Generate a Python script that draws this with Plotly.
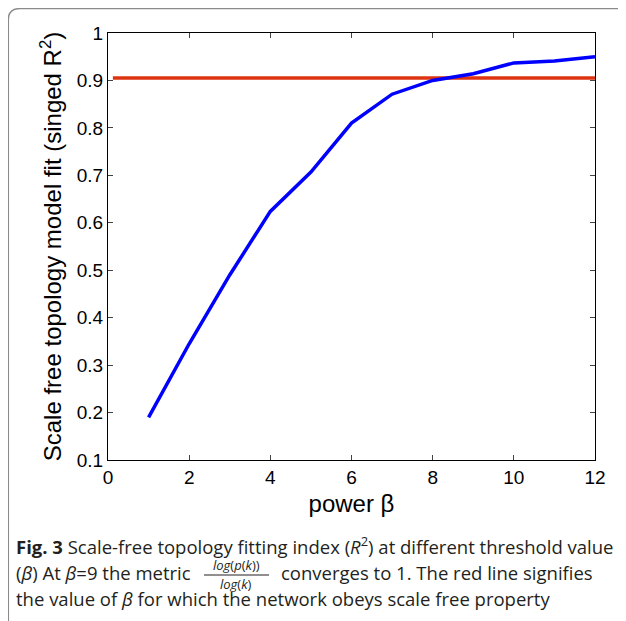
import plotly.graph_objects as go

# soft threshold power vs signed R^2 of scale-free fit
power = [1, 2, 3, 4, 5, 6, 7, 8, 9, 10, 11, 12]
r2 = [0.19, 0.345, 0.49, 0.624, 0.707, 0.81, 0.871, 0.90, 0.914, 0.937, 0.941, 0.95]

# red cutoff line
cut_x = [0.12, 12]
cut_y = [0.905, 0.905]

# page body has an 8px margin, so the figure is shifted by OFF
OFF = 8
W, H = 626 - OFF, 621 - OFF
L, T = 108 - OFF, 33 - OFF
PW, PH = 487, 427
R, B = W - L - PW, H - T - PH


def px(x):
    return (x - OFF - L) / PW


def py(y):
    return (H - B - (y - OFF)) / PH


fig = go.Figure()
fig.add_trace(go.Scatter(x=cut_x, y=cut_y, mode='lines',
                         line=dict(color='#dd3311', width=3.5), showlegend=False))
fig.add_trace(go.Scatter(x=power, y=r2, mode='lines',
                         line=dict(color='#0000ff', width=3.5), showlegend=False))

axis_font = dict(family='Liberation Sans, Arial', size=19, color='black')
fig.update_xaxes(range=[0, 12], tickvals=[0, 2, 4, 6, 8, 10, 12], ticks='inside', ticklen=5,
                 showline=True, linecolor='black', linewidth=1, mirror='ticks',
                 showgrid=False, zeroline=False, tickfont=axis_font,
                 title=dict(text='power β', font=dict(family='Liberation Sans, Arial', size=24, color='black'),
                            standoff=8))
fig.update_yaxes(range=[0.1, 1], tickvals=[0.1, 0.2, 0.3, 0.4, 0.5, 0.6, 0.7, 0.8, 0.9, 1],
                 ticktext=['0.1', '0.2', '0.3', '0.4', '0.5', '0.6', '0.7', '0.8', '0.9', '1'],
                 ticks='inside', ticklen=5,
                 showline=True, linecolor='black', linewidth=1, mirror='ticks',
                 showgrid=False, zeroline=False, tickfont=axis_font,
                 title=dict(text='Scale free topology model fit (singed R<sup>2</sup>)',
                            font=dict(family='Liberation Sans, Arial', size=24, color='black'), standoff=8))

cap = dict(family='Open Sans, Noto Sans', size=18.5, color='#231f20')
notes = [
    dict(x=px(14), y=py(545), text='<b>Fig. 3</b> Scale-free topology fitting index (<i>R</i><sup>2</sup>) at different threshold value'),
    dict(x=px(14), y=py(572), text='(<i>β</i>) At <i>β</i>=9 the metric'),
    dict(x=px(279), y=py(572), text='converges to 1. The red line signifies'),
    dict(x=px(14), y=py(598), text='the value of <i>β</i> for which the network obeys scale free property'),
]
annotations = [dict(xref='paper', yref='paper', xanchor='left', yanchor='middle',
                    showarrow=False, font=cap, **n) for n in notes]
small = dict(family='Open Sans, Noto Sans', size=13, color='#231f20')
annotations.append(dict(xref='paper', yref='paper', x=px(236), y=py(565), text='<i>log</i>(<i>p</i>(<i>k</i>))',
                        showarrow=False, font=small, xanchor='center', yanchor='middle'))
annotations.append(dict(xref='paper', yref='paper', x=px(236), y=py(584), text='<i>log</i>(<i>k</i>)',
                        showarrow=False, font=small, xanchor='center', yanchor='middle'))

shapes = [
    dict(type='line', xref='paper', yref='paper', x0=px(204), x1=px(269), y0=py(575), y1=py(575),
         line=dict(color='#231f20', width=1)),
    dict(type='path', xref='paper', yref='paper',
         path='M {a},{b} L {a},{c} Q {a},{d} {e},{d} L {f},{d}'.format(
             a=px(8.3), b=py(660), c=py(20), d=py(8.6), e=px(20), f=px(660)),
         line=dict(color='#8a8a8a', width=1.5)),
]

fig.update_layout(width=W, height=H, margin=dict(l=L, r=R, t=T, b=B),
                  plot_bgcolor='white', paper_bgcolor='white',
                  annotations=annotations, shapes=shapes)

fig.write_html("out.html")
